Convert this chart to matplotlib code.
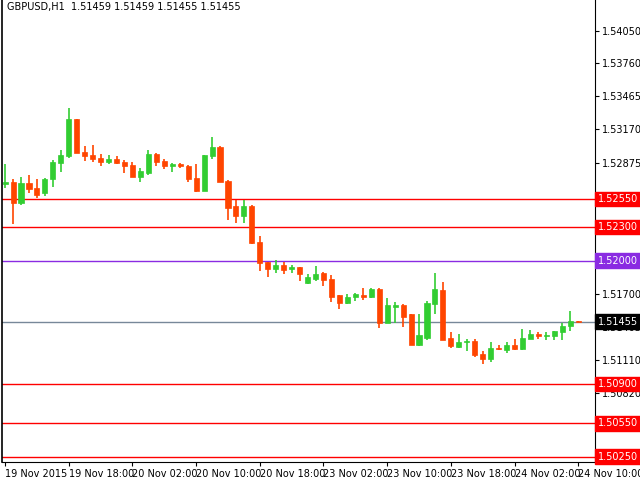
import matplotlib
matplotlib.use('Agg')
import matplotlib.pyplot as plt
from matplotlib.patches import Rectangle

# hourly GBPUSD candles
opens = [1.5268, 1.5270, 1.5251, 1.5269, 1.5265, 1.5260, 1.5273, 1.5287, 1.5293, 1.5326,
         1.5297, 1.5294, 1.5292, 1.5288, 1.5291, 1.5288, 1.5285, 1.5275, 1.5278, 1.5295,
         1.5289, 1.5284, 1.5286, 1.5284, 1.5274, 1.5262, 1.5293, 1.5301, 1.5271, 1.5249,
         1.5240, 1.5249, 1.5217, 1.5199, 1.5193, 1.5196, 1.5193, 1.5194, 1.5180, 1.5184,
         1.5189, 1.5184, 1.5169, 1.5162, 1.5168, 1.5169, 1.5168, 1.5175, 1.5144, 1.5159,
         1.5160, 1.5152, 1.5125, 1.5131, 1.5161, 1.5174, 1.5131, 1.5123, 1.5127, 1.5128,
         1.5117, 1.5112, 1.5122, 1.5120, 1.5125, 1.5121, 1.5130, 1.5135, 1.5133, 1.5133,
         1.5136, 1.5142, 1.51459]
highs = [1.5286, 1.5273, 1.5275, 1.5276, 1.5273, 1.5274, 1.5290, 1.5299, 1.5336, 1.5326,
         1.5302, 1.5303, 1.5295, 1.5294, 1.5293, 1.5290, 1.5288, 1.5283, 1.5299, 1.5296,
         1.5291, 1.5287, 1.5287, 1.5285, 1.5286, 1.5294, 1.5310, 1.5302, 1.5272, 1.5254,
         1.5254, 1.5250, 1.5222, 1.5199, 1.5201, 1.5199, 1.5196, 1.5194, 1.5188, 1.5195,
         1.5190, 1.5187, 1.5169, 1.5170, 1.5171, 1.5176, 1.5176, 1.5176, 1.5167, 1.5163,
         1.5161, 1.5152, 1.5152, 1.5164, 1.5189, 1.5181, 1.5136, 1.5135, 1.5130, 1.5130,
         1.5119, 1.5127, 1.5125, 1.5127, 1.5130, 1.5139, 1.5138, 1.5136, 1.5136, 1.5137,
         1.5144, 1.5155, 1.51459]
lows = [1.5265, 1.5233, 1.5250, 1.5260, 1.5256, 1.5258, 1.5266, 1.5279, 1.5292, 1.5296,
        1.5289, 1.5288, 1.5284, 1.5286, 1.5286, 1.5278, 1.5275, 1.5270, 1.5276, 1.5284,
        1.5282, 1.5279, 1.5283, 1.5270, 1.5261, 1.5262, 1.5291, 1.5270, 1.5236, 1.5234,
        1.5234, 1.5215, 1.5191, 1.5185, 1.5189, 1.5188, 1.5189, 1.5182, 1.5179, 1.5182,
        1.5177, 1.5163, 1.5157, 1.5161, 1.5164, 1.5165, 1.5167, 1.5140, 1.5144, 1.5144,
        1.5141, 1.5125, 1.5124, 1.5129, 1.5152, 1.5129, 1.5122, 1.5122, 1.5119, 1.5114,
        1.5108, 1.5110, 1.5120, 1.5118, 1.5120, 1.5120, 1.5130, 1.5130, 1.5129, 1.5129,
        1.5129, 1.5137, 1.51455]
closes = [1.5270, 1.5251, 1.5269, 1.5264, 1.5259, 1.5273, 1.5288, 1.5294, 1.5326, 1.5296,
          1.5293, 1.5291, 1.5288, 1.5291, 1.5287, 1.5284, 1.5275, 1.5280, 1.5295, 1.5288,
          1.5284, 1.5286, 1.5284, 1.5273, 1.5262, 1.5294, 1.5301, 1.5270, 1.5247, 1.5240,
          1.5249, 1.5216, 1.5198, 1.5193, 1.5196, 1.5192, 1.5194, 1.5188, 1.5185, 1.5188,
          1.5183, 1.5168, 1.5162, 1.5168, 1.5170, 1.5168, 1.5175, 1.5144, 1.5160, 1.5160,
          1.5150, 1.5125, 1.5134, 1.5162, 1.5175, 1.5129, 1.5124, 1.5127, 1.5128, 1.5116,
          1.5112, 1.5122, 1.5121, 1.5125, 1.5121, 1.5131, 1.5135, 1.5133, 1.5134, 1.5137,
          1.5142, 1.5146, 1.51455]

time_labels = ['19 Nov 2015', '19 Nov 18:00', '20 Nov 02:00', '20 Nov 10:00', '20 Nov 18:00',
               '23 Nov 02:00', '23 Nov 10:00', '23 Nov 18:00', '24 Nov 02:00', '24 Nov 10:00']
price_ticks = [1.54050, 1.53760, 1.53465, 1.53170, 1.52875, 1.52580, 1.52285,
               1.51990, 1.51700, 1.51405, 1.51110, 1.50820, 1.50525]
red_levels = [1.52550, 1.52300, 1.50900, 1.50550, 1.50250]
purple_level = 1.52000
bid = 1.51455

up_col = '#32CD32'
down_col = '#FF4500'

fig = plt.figure(figsize=(6.4, 4.8), dpi=100)
ax = fig.add_axes([0.003, 18 / 480, 593 / 640, 462 / 480])

for i in range(len(opens)):
    o, h, l, c = opens[i], highs[i], lows[i], closes[i]
    col = up_col if c >= o else down_col
    ax.vlines(i, l, h, color=col, lw=1.2, zorder=3)
    bot = min(o, c)
    hgt = max(abs(c - o), 0.00003)
    ax.add_patch(Rectangle((i - 0.32, bot), 0.64, hgt, facecolor=col, edgecolor=col, lw=0.5, zorder=4))

for lv in red_levels:
    ax.axhline(lv, color='red', lw=1, zorder=2)
ax.axhline(purple_level, color='#8A2BE2', lw=1, zorder=2)
ax.axhline(bid, color='#778899', lw=1, zorder=2)

ax.set_xlim(-0.4, 74.1)
ax.set_ylim(1.50204, 1.54325)

ax.yaxis.tick_right()
ax.set_yticks(price_ticks)
ax.set_yticklabels(['%.5f' % p for p in price_ticks])
ax.set_xticks(range(0, 73, 8))
ax.set_xticklabels(time_labels)
for t in ax.get_xticklabels():
    t.set_horizontalalignment('left')
ax.tick_params(axis='both', labelsize=7, length=3, direction='out', pad=2)
for s in ['top']:
    ax.spines[s].set_visible(False)
ax.spines['left'].set_linewidth(1.2)

def tag(y, bg):
    ax.text(1.005, y, '%.5f' % y, transform=ax.get_yaxis_transform(), fontsize=7,
            color='white', va='center', ha='left', zorder=10, clip_on=False,
            bbox=dict(boxstyle='square,pad=0.25', facecolor=bg, edgecolor=bg))

for lv in red_levels:
    tag(lv, 'red')
tag(purple_level, '#8A2BE2')
tag(bid, 'black')

ax.text(0.008, 0.995, 'GBPUSD,H1  1.51459 1.51459 1.51455 1.51455', transform=ax.transAxes,
        fontsize=7, va='top', ha='left')

fig.savefig('out.png', dpi=100)
